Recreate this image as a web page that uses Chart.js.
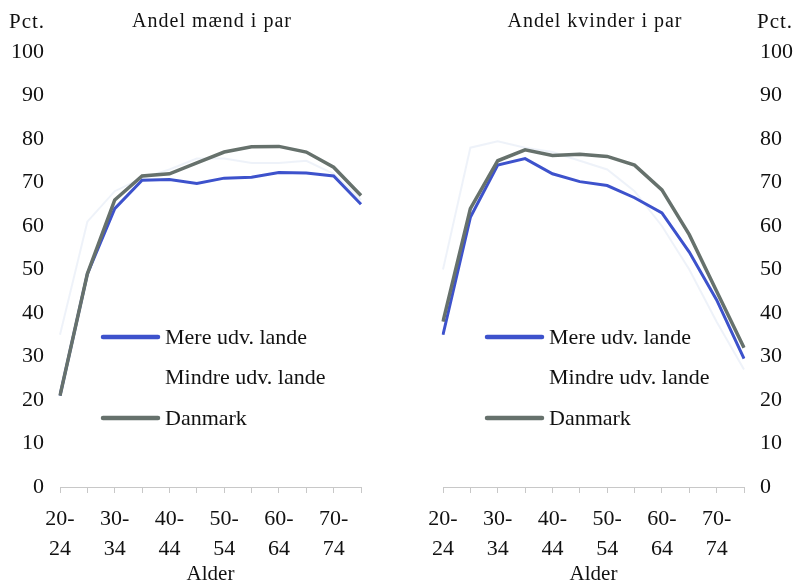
<!DOCTYPE html>
<html>
<head>
<meta charset="utf-8">
<script src="https://cdn.jsdelivr.net/npm/chart.js@4/dist/chart.umd.min.js"></script>
<style>
  body { margin: 0; background: #fff; overflow: hidden; }
  #wrap { position: relative; width: 797px; height: 582px; font-family: "Liberation Serif", "Times New Roman", serif; color: #111; }
  .txt { position: absolute; white-space: nowrap; }
  .pct { font-size: 21px; top: 9px; letter-spacing: 1px; }
  .ttl { font-size: 20px; top: 9px; letter-spacing: 1px; transform: translateX(-50%); }
  canvas { position: absolute; top: 0; }
</style>
</head>
<body>
<div id="wrap">
  <canvas id="men" width="400" height="582" style="left:0;width:400px;height:582px"></canvas>
  <canvas id="women" width="397" height="582" style="left:400px;width:397px;height:582px"></canvas>
  <div class="txt pct" style="left:9px">Pct.</div>
  <div class="txt ttl" style="left:212px">Andel mænd i par</div>
  <div class="txt ttl" style="left:595px">Andel kvinder i par</div>
  <div class="txt pct" style="left:757px">Pct.</div>
</div>
<script>
// === DATA ===
const ageGroups = ["20-24", "25-29", "30-34", "35-39", "40-44", "45-49", "50-54", "55-59", "60-64", "65-69", "70-74", "75-79"];
const yTicks = [0, 10, 20, 30, 40, 50, 60, 70, 80, 90, 100];
const seriesNames = ["Mere udv. lande", "Mindre udv. lande", "Danmark"];

// Andel mænd i par
const menMere    = [21, 49, 64, 70.5, 70.7, 69.8, 71, 71.2, 72.3, 72.2, 71.5, 65];
const menMindre  = [35, 61, 68, 71, 73, 75.5, 75.5, 74.5, 74.5, 75, 72, 66];
const menDanmark = [21, 49, 66, 71.5, 72, 74.5, 77, 78.2, 78.3, 77, 73.5, 67];

// Andel kvinder i par
const womenMere    = [35, 62, 74, 75.5, 72, 70.2, 69.3, 66.5, 63, 54, 43, 29.5];
const womenMindre  = [50, 78, 79.5, 78, 77, 75, 73, 68, 60, 50, 38, 27];
const womenDanmark = [38, 64, 75, 77.5, 76.2, 76.5, 76, 74, 68.3, 58, 45, 32];

const colors = ["#3d52cc", "rgba(200,212,235,0.3)", "#66716c"];
const FONT = "'Liberation Serif', 'Times New Roman', serif";

// === LEGEND INSIDE PLOT ===
const innerLegend = {
    id: "innerLegend",
    afterDatasetsDraw(chart, args, opts) {
        const ctx = chart.ctx;
        ctx.save();
        ctx.font = "22px " + FONT;
        ctx.textBaseline = "middle";
        ctx.fillStyle = "#111";
        const rows = [337, 377, 418];
        seriesNames.forEach((name, i) => {
            const y = rows[i];
            if (i !== 1) {
                ctx.strokeStyle = colors[i];
                ctx.lineWidth = 4.5;
                ctx.lineCap = "round";
                ctx.beginPath();
                ctx.moveTo(opts.x, y);
                ctx.lineTo(opts.x + 55, y);
                ctx.stroke();
            }
            ctx.fillText(name, opts.x + 62, y + 1);
        });
        ctx.restore();
    }
};

function makeChart(id, mere, mindre, danmark, side, pad, yWidth, legendX) {
    const tickFont = { family: FONT, size: 22, lineHeight: 1.36 };
    return new Chart(document.getElementById(id), {
        type: "line",
        data: {
            labels: ageGroups,
            datasets: [
                { label: seriesNames[0], data: mere, borderColor: colors[0], borderWidth: 3, order: 1 },
                { label: seriesNames[1], data: mindre, borderColor: colors[1], borderWidth: 2, order: 2 },
                { label: seriesNames[2], data: danmark, borderColor: colors[2], borderWidth: 3.5, order: 0 }
            ]
        },
        options: {
            responsive: false,
            animation: false,
            layout: { padding: pad },
            elements: { point: { radius: 0 }, line: { tension: 0 } },
            plugins: {
                legend: { display: false },
                tooltip: { enabled: false },
                innerLegend: { x: legendX }
            },
            scales: {
                x: {
                    offset: false,
                    grid: { drawOnChartArea: false, drawTicks: true, tickLength: 6, color: "#c8c8c8" },
                    border: { color: "#c8c8c8" },
                    ticks: {
                        autoSkip: false, maxRotation: 0, padding: 11, color: "#111", font: tickFont,
                        callback: (v, i) => i % 2 === 0 ? [ageGroups[i].slice(0, 3), ageGroups[i].slice(3)] : ""
                    },
                    title: { display: true, text: "Alder", color: "#111", font: { family: FONT, size: 21, lineHeight: 0.75 }, padding: 0 },
                    afterFit: s => { s.height = 95; }
                },
                y: {
                    position: side,
                    min: 0, max: 100,
                    afterBuildTicks: s => { s.ticks = yTicks.map(v => ({ value: v })); },
                    grid: { display: false },
                    border: { display: false },
                    ticks: { padding: 8, color: "#111", font: { family: FONT, size: 22 } },
                    afterFit: s => { s.width = yWidth; }
                }
            }
        },
        plugins: [innerLegend]
    });
}

makeChart("men", menMere, menMindre, menDanmark, "left", { top: 52, right: 39, left: 0, bottom: 0 }, 60, 103);
makeChart("women", womenMere, womenMindre, womenDanmark, "right", { top: 52, right: 0, left: 43, bottom: 0 }, 53, 87);
</script>
</body>
</html>
